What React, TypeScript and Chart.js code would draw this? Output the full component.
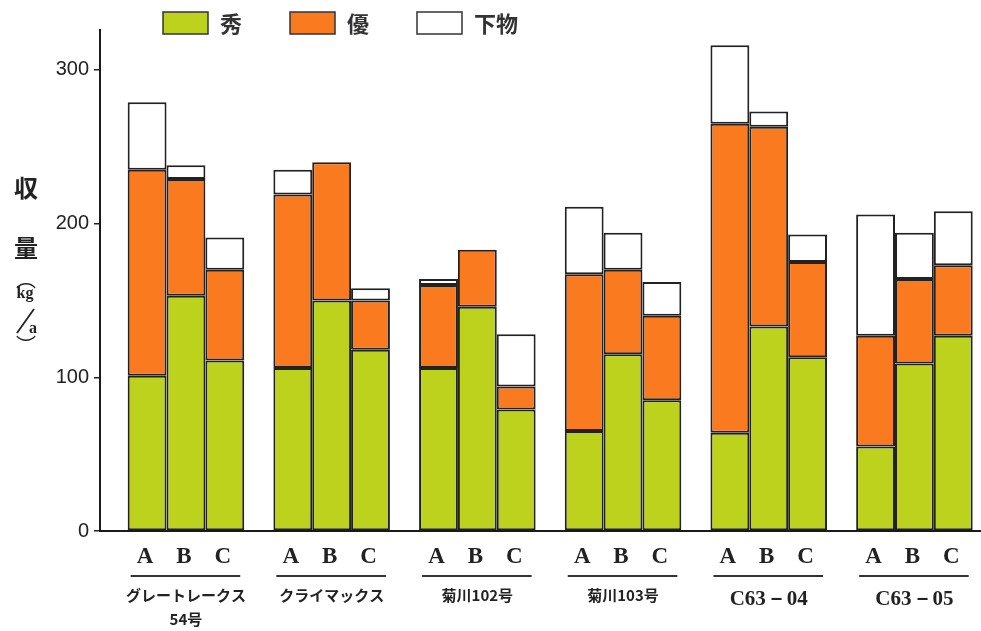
import React, { useEffect, useRef } from 'react';
import { Chart, registerables } from 'chart.js';

Chart.register(...registerables);

// ---- data ----
const groupNames: string[][] = [
  ['グレートレークス', '54号'],
  ['クライマックス'],
  ['菊川102号'],
  ['菊川103号'],
  ['C63－04'],
  ['C63－05'],
];
const plots = ['A', 'B', 'C'];
const seriesNames = ['秀', '優', '下物'];
// values in group order: group1 A,B,C, group2 A,B,C, ...
const shu = [101, 153, 111, 106, 150, 118, 106, 146, 79, 65, 115, 85, 64, 133, 113, 55, 109, 127];
const yu = [134, 76, 59, 113, 90, 32, 54, 37, 15, 102, 55, 55, 201, 130, 62, 72, 55, 46];
const gebutsu = [44, 9, 21, 16, 0, 8, 4, 0, 34, 44, 24, 22, 51, 10, 18, 79, 30, 35];
const yTicks = [0, 100, 200, 300];
const yMax = 326;

// ---- style ----
const seriesColors = ['#bcd21c', '#fa7a20', '#ffffff'];
const ink = '#222222';
const cjk = '"Noto Sans CJK JP", "Noto Sans", sans-serif';
const serif = '"Liberation Serif", "DejaVu Serif", serif';

const seriesValues = [shu, yu, gebutsu];

const legendPlugin = {
  id: 'customLegend',
  afterDraw(chart: any) {
    const ctx = chart.ctx;
    let x = 163;
    const y = 12;
    const bw = 45;
    const bh = 22;
    ctx.save();
    ctx.font = `bold 22px ${cjk}`;
    ctx.textBaseline = 'middle';
    ctx.textAlign = 'left';
    seriesNames.forEach((name, i) => {
      ctx.fillStyle = seriesColors[i];
      ctx.fillRect(x, y, bw, bh);
      ctx.lineWidth = 1.5;
      ctx.strokeStyle = '#333';
      ctx.strokeRect(x, y, bw, bh);
      x += bw + 12;
      ctx.fillStyle = '#333';
      ctx.fillText(name, x, y + bh / 2 + 1);
      x += ctx.measureText(name).width + 48;
    });
    ctx.restore();
  },
};

const decorPlugin = {
  id: 'decor',
  afterDraw(chart: any) {
    const ctx = chart.ctx;
    ctx.save();
    // plot letters under each bar + underline per group
    const metas = plots.map((p) => {
      const idx = chart.data.datasets.findIndex((d: any) => d.stack === p && d.label === seriesNames[0]);
      return chart.getDatasetMeta(idx);
    });
    ctx.fillStyle = ink;
    ctx.font = `bold 23px ${serif}`;
    ctx.textAlign = 'center';
    ctx.textBaseline = 'middle';
    groupNames.forEach((_, g) => {
      metas.forEach((m: any, k: number) => {
        const bar = m.data[g];
        ctx.fillText(plots[k], bar.x - 2, 557);
      });
      const a = metas[0].data[g];
      const c = metas[2].data[g];
      ctx.beginPath();
      ctx.strokeStyle = '#333';
      ctx.lineWidth = 2;
      ctx.moveTo(a.x - a.width / 2 + 3, 576);
      ctx.lineTo(c.x + c.width / 2 - 4, 576);
      ctx.stroke();
    });

    // vertical y-axis title
    ctx.fillStyle = ink;
    ctx.textAlign = 'center';
    ctx.textBaseline = 'middle';
    ctx.font = `bold 24px ${cjk}`;
    ctx.fillText('収', 26, 188);
    ctx.fillText('量', 26, 248);
    ctx.font = `20px ${cjk}`;
    ctx.fillText('︵', 26, 279);
    ctx.font = `bold 16px ${serif}`;
    ctx.fillText('kg', 25, 294);
    ctx.fillText('a', 33, 329);
    ctx.beginPath();
    ctx.lineWidth = 1.8;
    ctx.strokeStyle = ink;
    ctx.moveTo(17, 333);
    ctx.lineTo(34, 309);
    ctx.stroke();
    ctx.font = `20px ${cjk}`;
    ctx.fillText('︶', 26, 345);
    ctx.restore();
  },
};

export default function App() {
  const ref = useRef<HTMLCanvasElement | null>(null);

  useEffect(() => {
    document.body.style.margin = '0';
    document.body.style.overflow = 'hidden';
    if (!ref.current) return;

    const datasets: any[] = [];
    plots.forEach((p, k) => {
      seriesNames.forEach((name, s) => {
        datasets.push({
          label: name,
          stack: p,
          data: groupNames.map((_, g) => ({ x: g, y: seriesValues[s][g * 3 + k] })),
          backgroundColor: seriesColors[s],
          borderColor: ink,
          borderWidth: 2,
          borderSkipped: false,
        });
      });
    });

    const chart = new Chart(ref.current, {
      type: 'bar',
      data: { datasets },
      options: {
        animation: false,
        responsive: true,
        maintainAspectRatio: false,
        layout: { padding: { top: 30, right: 0, left: 0, bottom: 0 } },
        plugins: {
          legend: { display: false },
          tooltip: { enabled: false },
          title: { display: false },
        },
        datasets: {
          bar: { categoryPercentage: 0.8, barPercentage: 1 },
        },
        scales: {
          x: {
            type: 'linear',
            stacked: true,
            offset: false,
            min: -0.59,
            max: 5.457,
            afterFit: (s: any) => {
              s.height = 100;
              s.paddingLeft = 0;
              s.paddingRight = 0;
            },
            afterBuildTicks: (s: any) => {
              s.ticks = groupNames.map((_, i) => ({ value: i }));
            },
            grid: { display: false, drawTicks: false, tickLength: 0 },
            border: { display: true, color: '#1a1a1a', width: 2 },
            ticks: {
              autoSkip: false,
              maxRotation: 0,
              minRotation: 0,
              padding: 52,
              color: ink,
              font: (c: any) =>
                c.index >= 4
                  ? { family: serif, size: 21, weight: 'bold', lineHeight: '34px' }
                  : { family: cjk, size: 15, weight: 'bold', lineHeight: '24px' },
              callback: (v: any) => groupNames[Math.round(Number(v))] || '',
            },
          },
          y: {
            type: 'linear',
            stacked: true,
            min: 0,
            max: yMax,
            afterFit: (s: any) => {
              s.width = 100;
            },
            afterBuildTicks: (s: any) => {
              s.ticks = yTicks.map((v) => ({ value: v }));
            },
            grid: {
              display: true,
              drawOnChartArea: false,
              drawTicks: true,
              tickLength: 6,
              color: ink,
              lineWidth: 1.5,
            },
            border: { display: true, color: '#1a1a1a', width: 2 },
            ticks: {
              padding: 5,
              color: ink,
              font: { family: '"Liberation Sans Narrow", "Liberation Sans", Arial, sans-serif', size: 20 },
            },
          },
        },
      },
      plugins: [legendPlugin, decorPlugin],
    });

    return () => chart.destroy();
  }, []);

  return (
    <div style={{ position: 'relative', width: 981, height: 631 }}>
      <canvas ref={ref} />
    </div>
  );
}
